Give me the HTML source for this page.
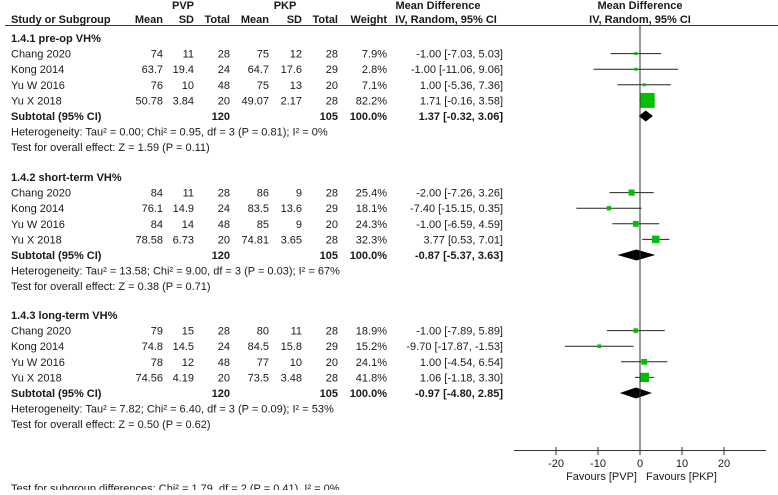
<!DOCTYPE html>
<html><head><meta charset="utf-8"><style>
body{margin:0;background:#fff}
svg text{font-family:"Liberation Sans",Arial,sans-serif;font-size:11px;fill:#1a1a1a}
.b{font-weight:bold}
</style></head><body>
<svg id="plot" width="778" height="490" xmlns="http://www.w3.org/2000/svg">
<g id="hdr"></g>
<line x1="5" y1="25.5" x2="778" y2="25.5" stroke="#333" stroke-width="1"/>
<g id="tbl"></g>
<g id="fig"></g>
</svg>
<script>
const groups = ["1.4.1 pre-op VH%","1.4.2 short-term VH%","1.4.3 long-term VH%"];
const studies = ["Chang 2020","Kong 2014","Yu W 2016","Yu X 2018"];
const pvpMean = [["74","63.7","76","50.78"],["84","76.1","84","78.58"],["79","74.8","78","74.56"]];
const pvpSD = [["11","19.4","10","3.84"],["11","14.9","14","6.73"],["15","14.5","12","4.19"]];
const pvpN = [[28,24,48,20],[28,24,48,20],[28,24,48,20]];
const pkpMean = [["75","64.7","75","49.07"],["86","83.5","85","74.81"],["80","84.5","77","73.5"]];
const pkpSD = [["12","17.6","13","2.17"],["9","13.6","9","3.65"],["11","15.8","10","3.48"]];
const pkpN = [[28,29,20,28],[28,29,20,28],[28,29,20,28]];
const weights = [[7.9,2.8,7.1,82.2],[25.4,18.1,24.3,32.3],[18.9,15.2,24.1,41.8]];
const md = [[-1.00,-1.00,1.00,1.71],[-2.00,-7.40,-1.00,3.77],[-1.00,-9.70,1.00,1.06]];
const lo = [[-7.03,-11.06,-5.36,-0.16],[-7.26,-15.15,-6.59,0.53],[-7.89,-17.87,-4.54,-1.18]];
const hi = [[5.03,9.06,7.36,3.58],[3.26,0.35,4.59,7.01],[5.89,-1.53,6.54,3.30]];
const subMd = [1.37,-0.87,-0.97];
const subLo = [-0.32,-5.37,-4.80];
const subHi = [3.06,3.63,2.85];
const het = ["Heterogeneity: Tau² = 0.00; Chi² = 0.95, df = 3 (P = 0.81); I² = 0%",
"Heterogeneity: Tau² = 13.58; Chi² = 9.00, df = 3 (P = 0.03); I² = 67%",
"Heterogeneity: Tau² = 7.82; Chi² = 6.40, df = 3 (P = 0.09); I² = 53%"];
const overall = ["Test for overall effect: Z = 1.59 (P = 0.11)","Test for overall effect: Z = 0.38 (P = 0.71)","Test for overall effect: Z = 0.50 (P = 0.62)"];
const ticks = [-20,-10,0,10,20];

const NS="http://www.w3.org/2000/svg";
const X0=640, PX=4.2;
function xs(v){return X0+v*PX;}
function txt(parent,x,y,s,anchor,bold,name){
  const t=document.createElementNS(NS,'text');
  t.setAttribute('x',x);t.setAttribute('y',y);
  if(anchor)t.setAttribute('text-anchor',anchor);
  if(bold)t.setAttribute('class','b');
  t.textContent=s;
  
  
  parent.appendChild(t);return t;
}
function el(parent,tag,attrs,name){
  const e=document.createElementNS(NS,tag);
  for(const k in attrs)e.setAttribute(k,attrs[k]);
  
  
  parent.appendChild(e);return e;
}
const H=document.getElementById('hdr'),T=document.getElementById('tbl'),F=document.getElementById('fig');
txt(H,183,9,"PVP","middle",1,"pvp-header");
txt(H,285,9,"PKP","middle",1,"pkp-header");
txt(H,438,9,"Mean Difference","middle",1,"md-header");
txt(H,446,23,"IV, Random, 95% CI","middle",1,"md-subheader");
txt(H,640,9,"Mean Difference","middle",1,"plot-header");
txt(H,640,23,"IV, Random, 95% CI","middle",1,"plot-subheader");
txt(H,11,23,"Study or Subgroup","start",1,"study-col-header");
const colR=[163,194,230,269,302,338,387];
["Mean","SD","Total","Mean","SD","Total","Weight"].forEach((s,i)=>txt(H,colR[i],23,s,"end",1,"col-header"));

const starts=[38,177,315];
const dy=15.6;
groups.forEach((g,gi)=>{
  const y0=starts[gi];
  txt(T,11,y0+4,g,"start",1,"subgroup-title");
  studies.forEach((s,si)=>{
    const y=y0+dy*(si+1);
    const b=y+4;
    txt(T,11,b,s,"start",0,"study-name");
    const vals=[pvpMean[gi][si],pvpSD[gi][si],pvpN[gi][si],pkpMean[gi][si],pkpSD[gi][si],pkpN[gi][si],weights[gi][si].toFixed(1)+"%"];
    vals.forEach((v,i)=>txt(T,colR[i],b,String(v),"end",0,"table-cell"));
    txt(T,503,b,md[gi][si].toFixed(2)+" ["+lo[gi][si].toFixed(2)+", "+hi[gi][si].toFixed(2)+"]","end",0,"ci-text");
    el(F,'line',{x1:xs(lo[gi][si]),x2:xs(hi[gi][si]),y1:y,y2:y,stroke:'#222','stroke-width':1},'ci-whisker');
    const w=weights[gi][si];
    const sz=Math.max(3,2.2*Math.sqrt(w)-5);
    el(F,'rect',{x:xs(md[gi][si])-sz/2,y:y-sz/2,width:sz,height:sz,fill:'#00c000'},'study-marker');
  });
  const ys=y0+dy*5, bs=ys+4;
  txt(T,11,bs,"Subtotal (95% CI)","start",1,"subtotal-label");
  txt(T,colR[2],bs,"120","end",1,"subtotal-n");
  txt(T,colR[5],bs,"105","end",1,"subtotal-n");
  txt(T,colR[6],bs,"100.0%","end",1,"subtotal-weight");
  txt(T,503,bs,subMd[gi].toFixed(2)+" ["+subLo[gi].toFixed(2)+", "+subHi[gi].toFixed(2)+"]","end",1,"subtotal-ci");
  const a=xs(subLo[gi]),c=xs(subMd[gi]),d=xs(subHi[gi]);
  el(F,'polygon',{points:`${a},${ys} ${c},${ys-5.5} ${d},${ys} ${c},${ys+5.5}`,fill:'#000'},'subtotal-diamond');
  txt(T,11,ys+dy+4,het[gi],"start",0,"heterogeneity-text");
  txt(T,11,ys+2*dy+4,overall[gi],"start",0,"overall-effect-text");
});
txt(T,11,492,"Test for subgroup differences: Chi² = 1.79, df = 2 (P = 0.41), I² = 0%","start",0,"subgroup-diff-text");

el(F,'line',{x1:X0,x2:X0,y1:25,y2:450,stroke:'#333','stroke-width':1},'zero-line');
el(F,'line',{x1:xs(-30),x2:xs(30),y1:450.5,y2:450.5,stroke:'#333','stroke-width':1},'x-axis');
ticks.forEach(t=>{
  el(F,'line',{x1:xs(t),x2:xs(t),y1:447,y2:455,stroke:'#333','stroke-width':1},'x-tick');
  txt(F,xs(t),467,String(t),"middle",0,"x-tick-label");
});
txt(F,637,480,"Favours [PVP]","end",0,"favours-pvp");
txt(F,646,480,"Favours [PKP]","start",0,"favours-pkp");
</script>
</body></html>
